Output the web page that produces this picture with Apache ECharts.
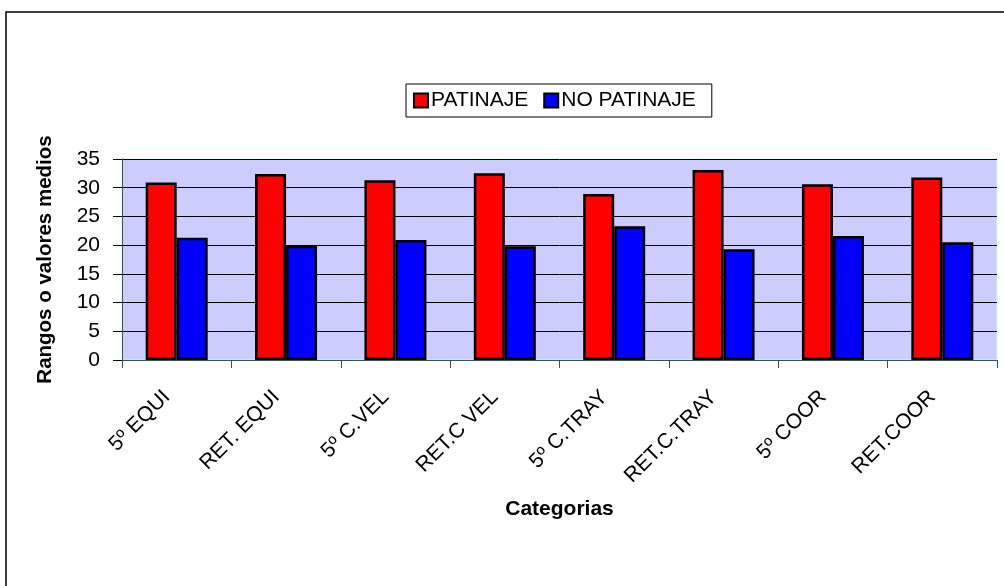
<!DOCTYPE html>
<html>
<head>
<meta charset="utf-8">
<script src="https://cdn.jsdelivr.net/npm/echarts@6/dist/echarts.min.js"></script>
<style>
  html, body { margin: 0; padding: 0; background: #ffffff; }
  #chart { width: 1004px; height: 586px; }
</style>
</head>
<body>
<div id="chart"></div>
<script>
// Categories and mean ranks per group
const categories = ['5º EQUI', 'RET. EQUI', '5º C.VEL', 'RET.C VEL', '5º C.TRAY', 'RET.C.TRAY', '5º COOR', 'RET.COOR'];
const patinaje = [30.9, 32.4, 31.3, 32.5, 28.9, 33.1, 30.6, 31.8];
const noPatinaje = [21.3, 19.9, 20.9, 19.8, 23.3, 19.3, 21.6, 20.5];
const seriesNames = ['PATINAJE', 'NO PATINAJE'];

const FONT = 'Liberation Sans, Arial, sans-serif';
const chart = echarts.init(document.getElementById('chart'), null, { renderer: 'canvas' });

chart.setOption({
  animation: false,
  backgroundColor: '#ffffff',
  textStyle: { fontFamily: FONT, color: '#000000' },
  graphic: [
    {
      type: 'rect',
      shape: { x: 6, y: 12, width: 1100, height: 700 },
      style: { fill: 'none', stroke: '#000000', lineWidth: 1.5 },
      silent: true,
      z: -1
    }
  ],
  legend: {
    data: seriesNames,
    left: 406,
    top: 84,
    padding: [6, 16, 6, 7],
    itemWidth: 14,
    itemHeight: 14,
    itemGap: 15,
    backgroundColor: '#ffffff',
    borderColor: '#000000',
    borderWidth: 1,
    icon: 'rect',
    itemStyle: { borderColor: '#000000', borderWidth: 2 },
    textStyle: { fontFamily: FONT, fontSize: 21, color: '#000000', padding: [0, 0, 0, -2] }
  },
  grid: {
    left: 122,
    right: 7,
    top: 159,
    bottom: 226,
    show: true,
    backgroundColor: '#ccccff',
    borderColor: '#ccffff',
    borderWidth: 1
  },
  xAxis: {
    type: 'category',
    data: categories,
    name: 'Categorias',
    nameLocation: 'middle',
    nameGap: 149,
    nameTextStyle: { fontFamily: FONT, fontSize: 21, fontWeight: 'bold', color: '#000000', verticalAlign: 'middle' },
    axisLine: { show: true, lineStyle: { color: '#335555', width: 1 } },
    axisTick: { show: true, alignWithLabel: false, length: 8, lineStyle: { color: '#335555' } },
    axisLabel: {
      rotate: 45,
      margin: 24,
      padding: [0, 14, 0, 0],
      fontFamily: FONT,
      fontSize: 21,
      color: '#000000',
      interval: 0
    },
    splitLine: { show: false }
  },
  yAxis: {
    type: 'value',
    min: 0,
    max: 35,
    interval: 5,
    name: 'Rangos o valores medios',
    nameLocation: 'middle',
    nameGap: 77,
    nameTextStyle: { fontFamily: FONT, fontSize: 20.5, fontWeight: 'bold', color: '#000000', verticalAlign: 'middle' },
    axisLine: { show: true, lineStyle: { color: '#335555', width: 1 } },
    axisTick: { show: true, inside: false, length: 9, lineStyle: { color: '#000000' } },
    axisLabel: { margin: 22, fontFamily: FONT, fontSize: 21, color: '#000000' },
    splitLine: { show: true, lineStyle: { color: '#000000', width: 1 } }
  },
  series: [
    {
      name: seriesNames[0],
      type: 'bar',
      data: patinaje,
      barWidth: 31,
      barGap: '0%',
      itemStyle: { color: '#ff0000', borderColor: '#000000', borderWidth: 2.5 }
    },
    {
      name: seriesNames[1],
      type: 'bar',
      data: noPatinaje,
      barWidth: 31,
      barGap: '0%',
      itemStyle: { color: '#0000ff', borderColor: '#000000', borderWidth: 2.5 }
    }
  ]
});
</script>
</body>
</html>
